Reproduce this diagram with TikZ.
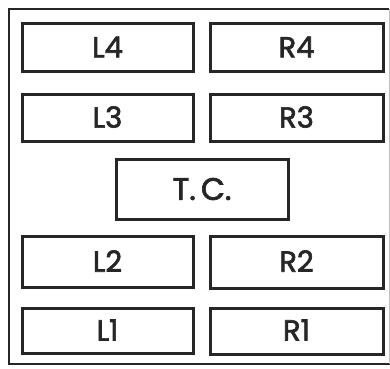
\documentclass[tikz,border=0pt]{standalone}
\usepackage{fontspec}
\setmainfont{Poppins}
\newfontfamily\lblfont{Poppins}[FakeBold=2.2]
\begin{document}
\begin{tikzpicture}[x=1pt,y=-1pt,
  boxstyle/.style={draw=black!85,line width=3pt,fill=white},
  lbl/.style={font=\lblfont\fontsize{29}{32}\selectfont,text=black!85}]
\useasboundingbox (0,0) rectangle (390,368);
\fill[white] (0,0) rectangle (390,368);
\draw[black!85,line width=2.2pt] (389,9) -- (9,9) -- (9,364) -- (390,364);
\draw[black!25,line width=1pt] (389,9) -- (389,364);
% boxes
\draw[boxstyle] (22,23) rectangle (193,71);
\node[lbl] (L4) at (107.5,47) {L4};
\draw[boxstyle] (210,23) rectangle (383,71);
\node[lbl] (R4) at (296.5,47) {R4};
\draw[boxstyle] (22,94) rectangle (193,141);
\node[lbl] (L3) at (107.5,117) {L3};
\draw[boxstyle] (210,94) rectangle (383,141);
\node[lbl] (R3) at (296.5,117) {R3};
\draw[boxstyle] (116,159) rectangle (288,219);
\node[lbl,font=\lblfont\fontsize{31}{34}\selectfont] (TC) at (202,189) {T.\,C.};
\draw[boxstyle] (22,236) rectangle (193,287);
\node[lbl] (L2) at (107.5,261) {L2};
\draw[boxstyle] (210,236) rectangle (383,288);
\node[lbl] (R2) at (296.5,261) {R2};
\draw[boxstyle] (22,308) rectangle (193,353);
\node[lbl] (L1) at (107.5,330) {L1};
\draw[boxstyle] (210,308) rectangle (383,354);
\node[lbl] (R1) at (296.5,330) {R1};
\end{tikzpicture}
\end{document}
